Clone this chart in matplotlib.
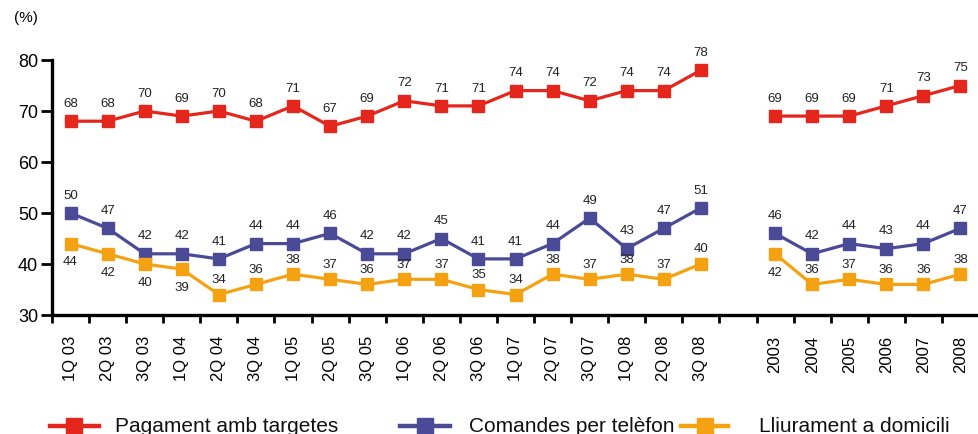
import matplotlib
matplotlib.use("Agg")
import matplotlib.pyplot as plt
from matplotlib.lines import Line2D

plt.rcParams['font.family'] = ['Liberation Sans', 'DejaVu Sans']

quarters = ["1Q 03", "2Q 03", "3Q 03", "1Q 04", "2Q 04", "3Q 04", "1Q 05", "2Q 05",
            "3Q 05", "1Q 06", "2Q 06", "3Q 06", "1Q 07", "2Q 07", "3Q 07", "1Q 08",
            "2Q 08", "3Q 08"]
years = ["2003", "2004", "2005", "2006", "2007", "2008"]

card_q = [68, 68, 70, 69, 70, 68, 71, 67, 69, 72, 71, 71, 74, 74, 72, 74, 74, 78]
phone_q = [50, 47, 42, 42, 41, 44, 44, 46, 42, 42, 45, 41, 41, 44, 49, 43, 47, 51]
home_q = [44, 42, 40, 39, 34, 36, 38, 37, 36, 37, 37, 35, 34, 38, 37, 38, 37, 40]

card_y = [69, 69, 69, 71, 73, 75]
phone_y = [46, 42, 44, 43, 44, 47]
home_y = [42, 36, 37, 36, 36, 38]

# labels of the home-delivery series that sit below their markers
home_below_q = [0, 1, 2, 3]
home_below_y = [0]

series_names = ["Pagament amb targetes", "Comandes per telèfon", "Lliurament a domicili"]
colors = ["#E4261C", "#4B4A97", "#F4A211"]

W, H = 979, 434
fig = plt.figure(figsize=(W / 100, H / 100), dpi=100)
left_px, top_px, bottom_px = 52, 60, 315
slot = 37.42
ax = fig.add_axes([left_px / W, 1 - bottom_px / H, 1 - left_px / W, (bottom_px - top_px) / H])

n_q = len(quarters)
xq = list(range(n_q))
xy = [n_q + 1 + i for i in range(len(years))]

lw, ms = 2.3, 8.6
for vals_q, vals_y, c in [(card_q, card_y, colors[0]), (phone_q, phone_y, colors[1]),
                          (home_q, home_y, colors[2])]:
    for xs, vs in [(xq, vals_q), (xy, vals_y)]:
        ax.plot(xs, vs, color=c, lw=lw, marker='s', ms=ms, mec=c, mfc=c, clip_on=False, zorder=3)

def label(xs, vs, below=(), up=12.5, down=-13.5):
    for i, (x, v) in enumerate(zip(xs, vs)):
        off = down if i in below else up
        ax.annotate(str(v), (x, v), xytext=(0, off), textcoords='offset points',
                    ha='center', va='center', fontsize=9.5, color='#222222',
                    annotation_clip=False, zorder=4)

label(xq, card_q)
label(xy, card_y)
label(xq, phone_q)
label(xy, phone_y)
label(xq, home_q, home_below_q, up=10.5)
label(xy, home_y, home_below_y, up=10.5)

ax.set_xlim(-0.5, -0.5 + (W - left_px) / slot)
ax.set_ylim(30, 80)
ax.set_yticks([30, 40, 50, 60, 70, 80])
ax.tick_params(axis='y', length=8, width=2, labelsize=13, pad=2, direction='out')

ax.set_xticks(xq + xy)
ax.set_xticklabels(quarters + years, rotation=90, fontsize=12)
ax.tick_params(axis='x', which='major', length=0, pad=15)
ax.set_xticks([i - 0.5 for i in range(n_q + 1 + len(years) + 1)], minor=True)
ax.tick_params(axis='x', which='minor', length=6, width=2, direction='out')

for s in ['top', 'right']:
    ax.spines[s].set_visible(False)
for s in ['left', 'bottom']:
    ax.spines[s].set_linewidth(2.4)

fig.text(14 / W, 1 - 18 / H, "(%)", fontsize=11, va='center', ha='left')

# legend row along the bottom
legend_y = 1 - 426 / H
handles = [(50, 99, 115), (400, 450, 469), (681, 728, 759)]
for (x0, x1, tx), name, c in zip(handles, series_names, colors):
    fig.add_artist(Line2D([x0 / W, x1 / W], [legend_y, legend_y], color=c, lw=3.2,
                          transform=fig.transFigure))
    fig.add_artist(Line2D([(x0 + x1) / 2 / W], [legend_y], color=c, marker='s', ms=11.5,
                          mec=c, mfc=c, transform=fig.transFigure))
    fig.text(tx / W, legend_y, name, fontsize=15, va='center', ha='left', color='#111111')

fig.savefig("out.png", dpi=100)
